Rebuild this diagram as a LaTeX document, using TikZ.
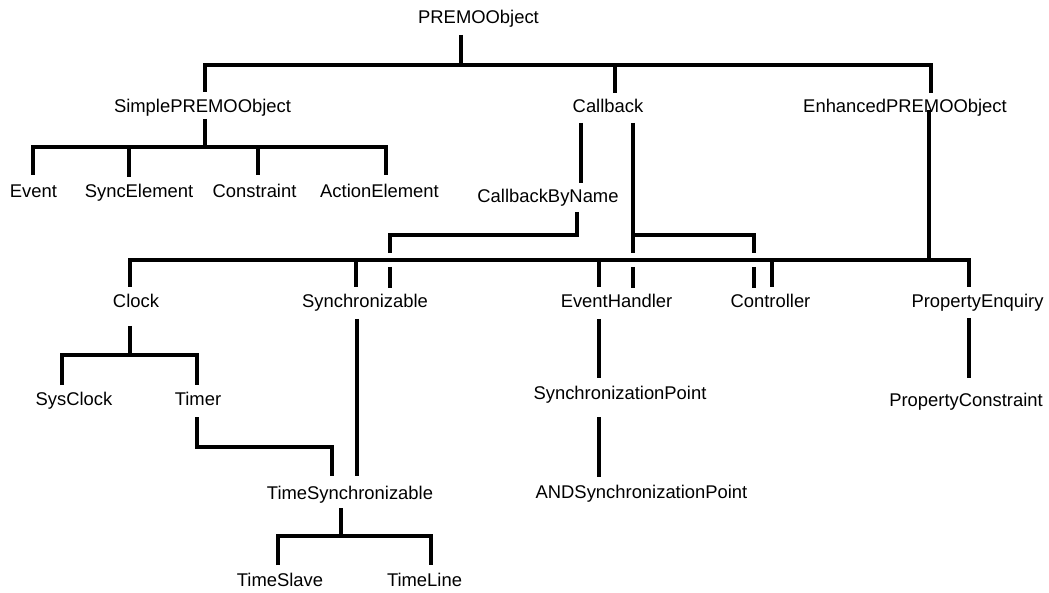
\documentclass[tikz,border=0pt]{standalone}
\usepackage{fontspec}
\setmainfont{Liberation Sans}
\usetikzlibrary{calc}
\begin{document}
\begin{tikzpicture}[x=1pt,y=-1pt,
  lbl/.style={anchor=base,inner sep=0pt,font=\fontsize{18.4}{22}\selectfont},
  conn/.style={line width=3.6pt,line cap=butt,line join=miter}]
\useasboundingbox (0,0) rectangle (1049,593);

% class names, placed on their baselines
\node[lbl] (premo)   at (478.5,24)  {PREMOObject};
\node[lbl] (spo)     at (202.5,113) {SimplePREMOObject};
\node[lbl] (cb)      at (608,113)   {Callback};
\node[lbl] (enh)     at (905,113)   {EnhancedPREMOObject};
\node[lbl] (event)   at (33.5,198)  {Event};
\node[lbl] (syncel)  at (139,198)   {SyncElement};
\node[lbl] (constr)  at (254.5,198) {Constraint};
\node[lbl] (action)  at (379.5,198) {ActionElement};
\node[lbl] (cbn)     at (548,203)   {CallbackByName};
\node[lbl] (clock)   at (136,308)   {Clock};
\node[lbl] (sync)    at (365,308)   {Synchronizable};
\node[lbl] (evh)     at (616.5,308) {EventHandler};
\node[lbl] (ctrl)    at (770.5,308) {Controller};
\node[lbl] (penq)    at (977.5,308) {PropertyEnquiry};
\node[lbl] (sysclk)  at (74,405)    {SysClock};
\node[lbl] (timer)   at (198,405)   {Timer};
\node[lbl] (sp)      at (620,399)   {SynchronizationPoint};
\node[lbl] (pc)      at (966,406)   {PropertyConstraint};
\node[lbl] (ts)      at (350,499)   {TimeSynchronizable};
\node[lbl] (andsp)   at (641.5,498) {ANDSynchronizationPoint};
\node[lbl] (tslave)  at (280,586)   {TimeSlave};
\node[lbl] (tline)   at (424.5,586) {TimeLine};

% PREMOObject and its three direct subclasses
\draw[conn] ($(premo.base)+(-17.5,11)$) -- ++(0,30);
\draw[conn] ($(spo.base)+(2.5,-21)$) |- ($(enh.base)+(26,-48)$) -- ($(enh.base)+(26,-20)$);
\draw[conn] ($(cb.base)+(7,-20)$) -- ++(0,-28);

% SimplePREMOObject subtree
\draw[conn] ($(spo.base)+(2.5,6)$) -- ++(0,28);
\draw[conn] ($(event.base)+(-0.5,-23)$) |- ($(action.base)+(6.5,-51)$) -- ($(action.base)+(6.5,-23)$);
\draw[conn] ($(syncel.base)+(-10,-21)$) -- ++(0,-30);
\draw[conn] ($(constr.base)+(3.5,-23)$) -- ++(0,-28);

% Callback subtree (CallbackByName, EventHandler, Controller)
\draw[conn] ($(cb.base)+(-27,10)$) -- ($(cbn.base)+(33,-20)$);
\draw[conn] ($(cbn.base)+(29,9)$) |- ($(sync.base)+(25,-73)$) -- ++(0,18);
\draw[conn] ($(sync.base)+(25,-41)$) -- ++(0,21);
\draw[conn] ($(cb.base)+(25,10)$) -- ++(0,130);
\draw[conn] ($(evh.base)+(16.5,-41)$) -- ++(0,21);
\draw[conn] ($(cb.base)+(25,122)$) -| ($(ctrl.base)+(-16.5,-55)$);
\draw[conn] ($(ctrl.base)+(-16.5,-41)$) -- ++(0,21);

% EnhancedPREMOObject subtree
\draw[conn] ($(enh.base)+(24,-3)$) -- ++(0,150);
\draw[conn] ($(clock.base)+(-6,-21)$) |- ($(penq.base)+(-8.5,-48)$) -- ($(penq.base)+(-8.5,-21)$);
\draw[conn] ($(sync.base)+(-9,-21)$) -- ++(0,-27);
\draw[conn] ($(evh.base)+(-17.5,-21)$) -- ++(0,-27);
\draw[conn] ($(ctrl.base)+(1.5,-21)$) -- ++(0,-27);

% Clock subtree
\draw[conn] ($(clock.base)+(-6,18)$) -- ++(0,29);
\draw[conn] ($(sysclk.base)+(-12,-20)$) |- ($(timer.base)+(-1,-50)$) -- ($(timer.base)+(-1,-20)$);

% TimeSynchronizable inherits from Timer and Synchronizable
\draw[conn] ($(timer.base)+(-1,12)$) |- ($(ts.base)+(-18,-52)$) -- ($(ts.base)+(-18,-23)$);
\draw[conn] ($(sync.base)+(-8,11)$) -- ($(ts.base)+(7,-23)$);
\draw[conn] ($(ts.base)+(-9,9)$) -- ++(0,28);
\draw[conn] ($(tslave.base)+(-2,-21)$) |- ($(tline.base)+(6.5,-50)$) -- ($(tline.base)+(6.5,-21)$);

% EventHandler chain and PropertyEnquiry
\draw[conn] ($(evh.base)+(-17.5,11)$) -- ($(sp.base)+(-21,-21)$);
\draw[conn] ($(sp.base)+(-21,18)$) -- ($(andsp.base)+(-42.5,-21)$);
\draw[conn] ($(penq.base)+(-8.5,10)$) -- ($(pc.base)+(3,-28)$);
\end{tikzpicture}
\end{document}
